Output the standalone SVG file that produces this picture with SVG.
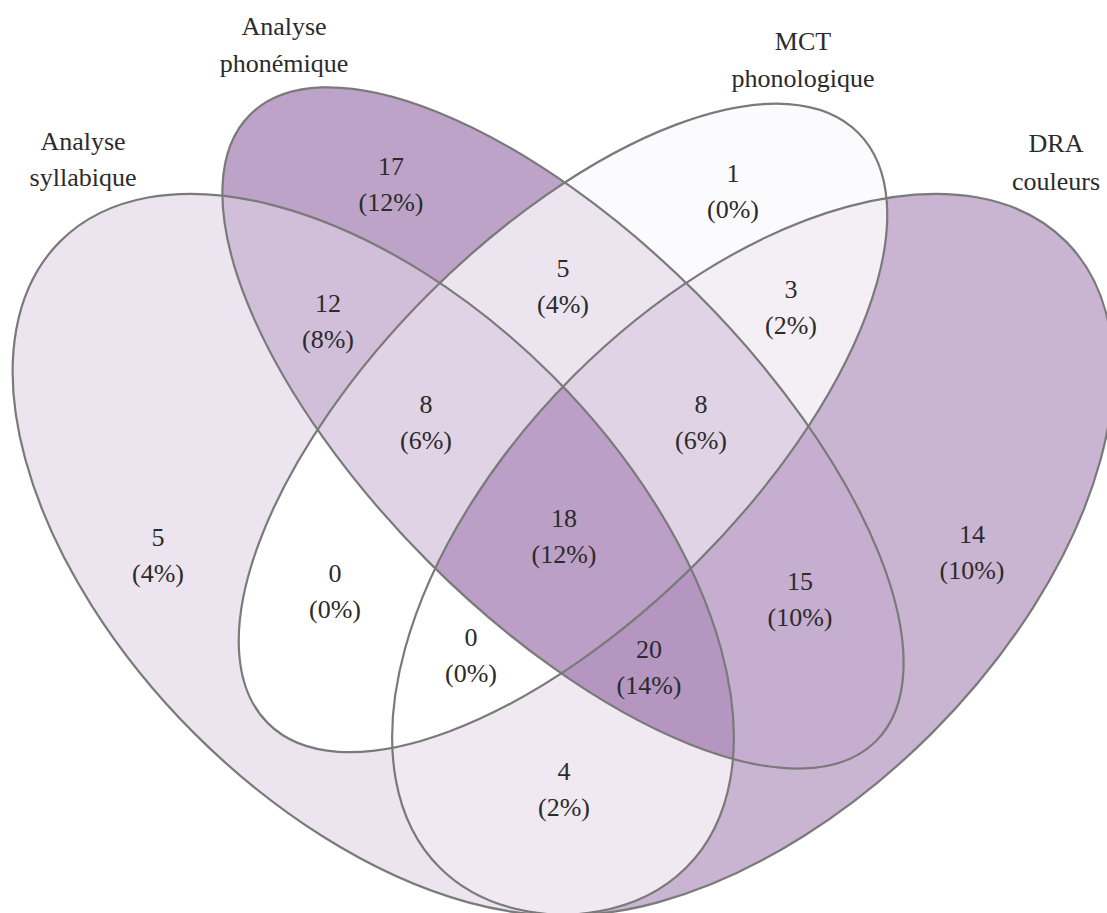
<svg xmlns="http://www.w3.org/2000/svg" xmlns:xlink="http://www.w3.org/1999/xlink" width="1107" height="913" viewBox="0 0 1107 913">
<style>
text{font-family:"Liberation Serif","Times New Roman",serif;font-size:26px;fill:#2b2b2b;text-anchor:middle}
.outline{fill:none;stroke:#7a7a7a;stroke-width:2.2}
.c0{fill:#ffffff}.c1{fill:#fbfafc}.c3{fill:#f3eff5}.c4{fill:#f0e9f2}.c5{fill:#ece4ef}
.c8{fill:#e0d3e5}.c12{fill:#d1bed8}.c14{fill:#c9b4d2}.c15{fill:#c5aecf}.c17{fill:#bea3c8}
.c18{fill:#bb9fc6}.c20{fill:#b496c0}
</style>
<defs>
<ellipse id="eA" cx="373.25" cy="554.45" rx="442.75" ry="253" transform="rotate(45 373.25 554.45)"/>
<ellipse id="eB" cx="563" cy="427.95" rx="442.75" ry="189.75" transform="rotate(45 563 427.95)"/>
<ellipse id="eC" cx="563" cy="427.95" rx="417.45" ry="189.75" transform="rotate(-45 563 427.95)"/>
<ellipse id="eD" cx="752.75" cy="554.45" rx="442.75" ry="253" transform="rotate(-45 752.75 554.45)"/>
<clipPath id="cA"><use xlink:href="#eA"/></clipPath>
<clipPath id="cB"><use xlink:href="#eB"/></clipPath>
<clipPath id="cC"><use xlink:href="#eC"/></clipPath>
<clipPath id="cD"><use xlink:href="#eD"/></clipPath>
</defs>
<rect width="1107" height="913" fill="#ffffff"/>
<g id="regions">
<g id="r-A"><use xlink:href="#eA" class="c5"/></g>
<g id="r-B"><use xlink:href="#eB" class="c17"/></g>
<g id="r-C"><use xlink:href="#eC" class="c1"/></g>
<g id="r-D"><use xlink:href="#eD" class="c14"/></g>
<g id="r-AB" clip-path="url(#cA)"><use xlink:href="#eB" class="c12"/></g>
<g id="r-AC" clip-path="url(#cA)"><use xlink:href="#eC" class="c0"/></g>
<g id="r-AD" clip-path="url(#cA)"><use xlink:href="#eD" class="c4"/></g>
<g id="r-BC" clip-path="url(#cB)"><use xlink:href="#eC" class="c5"/></g>
<g id="r-BD" clip-path="url(#cB)"><use xlink:href="#eD" class="c15"/></g>
<g id="r-CD" clip-path="url(#cC)"><use xlink:href="#eD" class="c3"/></g>
<g id="r-ABC" clip-path="url(#cA)"><g clip-path="url(#cB)"><use xlink:href="#eC" class="c8"/></g></g>
<g id="r-ABD" clip-path="url(#cA)"><g clip-path="url(#cB)"><use xlink:href="#eD" class="c20"/></g></g>
<g id="r-ACD" clip-path="url(#cA)"><g clip-path="url(#cC)"><use xlink:href="#eD" class="c0"/></g></g>
<g id="r-BCD" clip-path="url(#cB)"><g clip-path="url(#cC)"><use xlink:href="#eD" class="c8"/></g></g>
<g id="r-ABCD" clip-path="url(#cA)"><g clip-path="url(#cB)"><g clip-path="url(#cC)"><use xlink:href="#eD" class="c18"/></g></g></g>
</g>
<g id="connectors"></g>
<g id="set-A"><use xlink:href="#eA" class="outline"/><text x="83" y="150">Analyse</text><text x="83" y="186">syllabique</text></g>
<g id="set-B"><use xlink:href="#eB" class="outline"/><text x="284" y="35">Analyse</text><text x="284" y="72">phonémique</text></g>
<g id="set-C"><use xlink:href="#eC" class="outline"/><text x="803" y="50">MCT</text><text x="803" y="87">phonologique</text></g>
<g id="set-D"><use xlink:href="#eD" class="outline"/><text x="1056" y="152">DRA</text><text x="1056" y="190">couleurs</text></g>
<g id="counts">
<g id="n-A"><text x="158" y="546">5</text><text x="158" y="582">(4%)</text></g>
<g id="n-B"><text x="391" y="175">17</text><text x="391" y="211">(12%)</text></g>
<g id="n-C"><text x="733" y="182">1</text><text x="733" y="218">(0%)</text></g>
<g id="n-D"><text x="972" y="543">14</text><text x="972" y="579">(10%)</text></g>
<g id="n-AB"><text x="328" y="312">12</text><text x="328" y="348">(8%)</text></g>
<g id="n-BC"><text x="563" y="277">5</text><text x="563" y="313">(4%)</text></g>
<g id="n-CD"><text x="791" y="298">3</text><text x="791" y="334">(2%)</text></g>
<g id="n-ABC"><text x="426" y="413">8</text><text x="426" y="449">(6%)</text></g>
<g id="n-BCD"><text x="701" y="413">8</text><text x="701" y="449">(6%)</text></g>
<g id="n-ABCD"><text x="564" y="527">18</text><text x="564" y="563">(12%)</text></g>
<g id="n-AC"><text x="335" y="582">0</text><text x="335" y="618">(0%)</text></g>
<g id="n-BD"><text x="800" y="590">15</text><text x="800" y="626">(10%)</text></g>
<g id="n-ACD"><text x="471" y="646">0</text><text x="471" y="682">(0%)</text></g>
<g id="n-ABD"><text x="649" y="658">20</text><text x="649" y="694">(14%)</text></g>
<g id="n-AD"><text x="564" y="780">4</text><text x="564" y="816">(2%)</text></g>
</g>
</svg>
